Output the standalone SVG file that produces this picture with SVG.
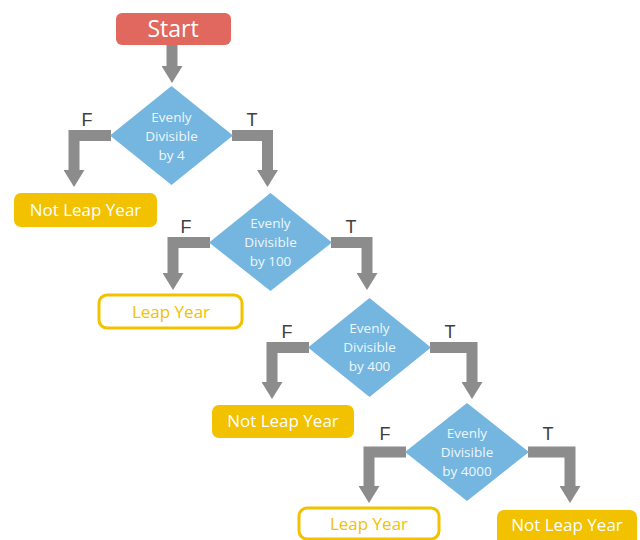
<svg xmlns="http://www.w3.org/2000/svg" width="640" height="540" viewBox="0 0 640 540">
<defs>
<style>
.start{fill:#E0685F}
.dec{fill:#74B6E0}
.solid{fill:#F2C100}
.outline{fill:#FFFFFF;stroke:#F2C100;stroke-width:3}
.conn{fill:none;stroke:#8C8C8C;stroke-width:11;stroke-linejoin:miter;stroke-linecap:butt}
.dtext{font-family:"Open Sans",sans-serif;font-size:13.5px;fill:#EEF6FC;text-anchor:middle}
.btext{font-family:"Open Sans",sans-serif;font-size:17px;text-anchor:middle}
.lbl{font-family:"Liberation Sans",Arial,sans-serif;font-size:18px;fill:#404040;text-anchor:middle}
</style>
<marker id="ah" markerUnits="userSpaceOnUse" markerWidth="17" markerHeight="21" viewBox="0 0 17 21" refX="0" refY="10.5" orient="auto">
<path d="M0,0 L17,10.5 L0,21 Z" fill="#8C8C8C"/>
</marker>
</defs>
<rect width="640" height="540" fill="#FFFFFF"/>

<g id="connectors">
<path class="conn" d="M172,45 V66" marker-end="url(#ah)"/>
<path class="conn" d="M111,135.5 H74 V170" marker-end="url(#ah)"/>
<path class="conn" d="M232,135.5 H267.5 V170" marker-end="url(#ah)"/>
<path class="conn" d="M210,242.5 H173 V273" marker-end="url(#ah)"/>
<path class="conn" d="M331,242.5 H367 V273" marker-end="url(#ah)"/>
<path class="conn" d="M309,347.5 H272 V382" marker-end="url(#ah)"/>
<path class="conn" d="M430,347.5 H472 V382" marker-end="url(#ah)"/>
<path class="conn" d="M406,452 H369 V486" marker-end="url(#ah)"/>
<path class="conn" d="M528,452 H570 V486" marker-end="url(#ah)"/>
<text class="lbl" x="87" y="126">F</text>
<text class="lbl" x="252" y="126">T</text>
<text class="lbl" x="186" y="233">F</text>
<text class="lbl" x="351" y="233">T</text>
<text class="lbl" x="287" y="338">F</text>
<text class="lbl" x="450" y="338">T</text>
<text class="lbl" x="385" y="440">F</text>
<text class="lbl" x="548" y="440">T</text>
</g>

<g id="start">
<rect class="start" x="116" y="13" width="115" height="32" rx="6"/>
<text class="btext" x="173" y="37" style="font-size:23px;fill:#FFFFFF">Start</text>
</g>

<g id="div4">
<polygon class="dec" points="171.5,86 233,135.5 171.5,185 110,135.5"/>
<text class="dtext" x="171.5" y="121.5">Evenly</text>
<text class="dtext" x="171.5" y="140.5">Divisible</text>
<text class="dtext" x="171.5" y="159.5">by 4</text>
</g>

<g id="notleap1">
<rect class="solid" x="14" y="193" width="143" height="34" rx="7"/>
<text class="btext" x="85.5" y="216" style="fill:#FFFFFF">Not Leap Year</text>
</g>

<g id="div100">
<polygon class="dec" points="270.5,193 332,242.5 270.5,291 209,242.5"/>
<text class="dtext" x="270.5" y="227.5">Evenly</text>
<text class="dtext" x="270.5" y="246.5">Divisible</text>
<text class="dtext" x="270.5" y="265.5">by 100</text>
</g>

<g id="leap1">
<rect class="outline" x="99" y="295" width="143" height="33" rx="8"/>
<text class="btext" x="171" y="318" style="fill:#F2C100">Leap Year</text>
</g>

<g id="div400">
<polygon class="dec" points="369.5,298 431,347.5 369.5,397 308,347.5"/>
<text class="dtext" x="369.5" y="333">Evenly</text>
<text class="dtext" x="369.5" y="352">Divisible</text>
<text class="dtext" x="369.5" y="371">by 400</text>
</g>

<g id="notleap2">
<rect class="solid" x="212" y="405" width="142" height="33" rx="7"/>
<text class="btext" x="283" y="427" style="fill:#FFFFFF">Not Leap Year</text>
</g>

<g id="div4000">
<polygon class="dec" points="467,403 529,452 467,501 405,452"/>
<text class="dtext" x="467" y="437.5">Evenly</text>
<text class="dtext" x="467" y="456.5">Divisible</text>
<text class="dtext" x="467" y="475.5">by 4000</text>
</g>

<g id="leap2">
<rect class="outline" x="299" y="508" width="140" height="31" rx="8"/>
<text class="btext" x="369" y="530" style="fill:#F2C100">Leap Year</text>
</g>

<g id="notleap3">
<rect class="solid" x="497" y="510" width="140" height="36" rx="7"/>
<text class="btext" x="567" y="531" style="fill:#FFFFFF">Not Leap Year</text>
</g>
</svg>
